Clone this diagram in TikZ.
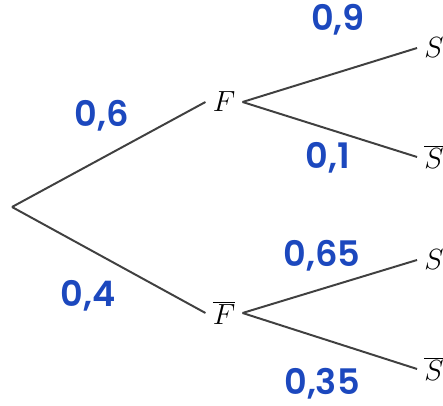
\documentclass[tikz,border=0pt]{standalone}
\usepackage{fontspec}
\newfontfamily\handfont{Poppins SemiBold}
\usetikzlibrary{positioning}
\definecolor{inkblue}{RGB}{28,72,190}
\tikzset{
  event/.style={font=\huge, inner sep=5pt},
  branch/.style={draw=black!75, line width=1.4pt},
  prob/.style={text=inkblue, font=\handfont\fontsize{25}{28}\selectfont}
}

\begin{document}
\begin{tikzpicture}[x=0.025cm, y=-0.025cm]
  \useasboundingbox (0,0) rectangle (443,406);
  % tree
  \coordinate (root) at (12,207);
  \node[event] (f) at (224,102) {$F$};
  \node[event] (fb) at (224,313) {$\overline{F}$};
  \node[event] (s1) at (434,48) {$S$};
  \node[event] (s2) at (434,157) {$\overline{S}$};
  \node[event] (s3) at (434,260) {$S$};
  \node[event] (s4) at (434,369) {$\overline{S}$};
  \draw[branch] (root) -- (f.west);
  \draw[branch] (root) -- (fb.west);
  \draw[branch] (f.east) -- (s1.west);
  \draw[branch] (f.east) -- (s2.west);
  \draw[branch] (fb.east) -- (s3.west);
  \draw[branch] (fb.east) -- (s4.west);
  % probabilities
  \node[prob] (p1) at (102,116) {0,6};
  \node[prob] (p2) at (88,296) {0,4};
  \node[prob] (p3) at (338,20) {0,9};
  \node[prob] (p4) at (328,158) {0,1};
  \node[prob] (p5) at (322,256) {0,65};
  \node[prob] (p6) at (322,384) {0,35};
\end{tikzpicture}
\end{document}
